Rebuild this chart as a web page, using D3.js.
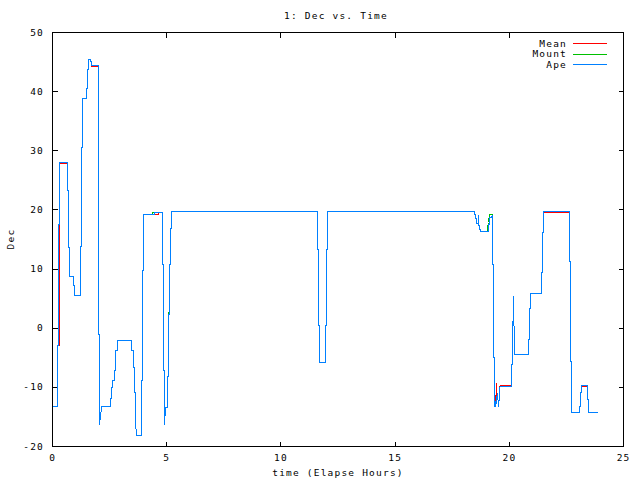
<!DOCTYPE html>
<html>
<head>
<meta charset="utf-8">
<script src="https://cdn.jsdelivr.net/npm/d3@7/dist/d3.min.js"></script>
<style>
  html, body { margin: 0; padding: 0; background: #fff; }
  svg text { font-family: "DejaVu Sans Mono", "Liberation Mono", monospace; font-size: 9.5px; letter-spacing: 1.2px; fill: #000; }
</style>
</head>
<body>
<svg id="chart" width="640" height="480"></svg>
<script>
// ---- data ----
const title = "1: Dec vs. Time";
const xLabel = "time (Elapse Hours)";
const yLabel = "Dec";
const xTicks = [0, 5, 10, 15, 20, 25];
const yTicks = [-20, -10, 0, 10, 20, 30, 40, 50];
const seriesNames = ["Mean", "Mount", "Ape"];

// [hours, dec]
const ape = [
  [0.00,-13.3],[0.23,-13.3],[0.23,-3.0],[0.28,-3.0],[0.28,17.6],[0.32,17.6],[0.32,28.1],[0.67,28.1],
  [0.67,23.3],[0.70,23.3],[0.70,13.7],[0.76,13.7],[0.76,8.8],[0.93,8.8],[0.93,7.2],[0.98,7.2],
  [0.98,5.6],[1.24,5.6],[1.24,13.8],[1.28,13.8],[1.28,30.5],[1.33,30.5],[1.33,38.8],[1.50,38.8],
  [1.50,40.5],[1.53,40.5],[1.53,43.8],[1.58,43.8],[1.58,45.4],[1.66,45.4],[1.66,45.1],[1.71,45.1],
  [1.71,44.5],[2.00,44.5],[2.00,29.2],[2.03,29.2],[2.03,-1.0],[2.07,-1.0],[2.07,-16.3],[2.11,-14.8],
  [2.12,-15.3],[2.14,-13.3],[2.55,-13.3],[2.55,-11.8],[2.60,-11.8],[2.60,-10.1],[2.64,-10.1],[2.64,-8.9],
  [2.71,-8.9],[2.71,-7.1],[2.77,-7.1],[2.77,-3.8],[2.83,-3.8],[2.83,-2.0],[3.47,-2.0],[3.47,-3.7],
  [3.53,-3.7],[3.53,-6.7],[3.60,-6.7],[3.60,-10.8],[3.65,-10.8],[3.65,-15.7],[3.66,-18.1],[3.91,-18.1],
  [3.91,-8.9],[3.95,-8.9],[3.95,9.7],[3.99,9.7],[3.99,19.3],[4.45,19.3],[4.45,19.5],[4.83,19.5],
  [4.83,10.8],[4.87,10.8],[4.87,-7.2],[4.91,-7.2],[4.91,-16.2],[4.96,-13.4],[5.02,-13.4],[5.02,-8.1],
  [5.06,-8.1],[5.06,2.4],[5.11,2.4],[5.11,10.8],[5.16,10.8],[5.16,16.8],[5.22,16.8],[5.22,19.7],
  [11.61,19.7],[11.61,13.3],[11.65,13.3],[11.65,0.4],[11.70,0.4],[11.70,-5.8],[11.96,-5.8],[11.96,0.4],
  [11.99,0.4],[11.99,13.3],[12.04,13.3],[12.04,19.8],[18.47,19.8],[18.47,19.3],[18.51,19.3],[18.51,18.5],
  [18.56,18.5],[18.56,17.7],[18.63,17.7],[18.64,19.3],[18.66,17.7],[18.69,17.1],[18.73,16.3],[19.09,16.3],
  [19.09,17.6],[19.14,17.6],[19.14,18.8],[19.22,18.8],[19.27,19.0],[19.27,10.8],[19.31,10.8],[19.31,-5.0],
  [19.36,-5.0],[19.36,-13.2],[19.40,-13.2],[19.42,-11.5],[19.46,-12.8],[19.48,-11.0],[19.52,-13.2],[19.55,-11.5],
  [19.58,-10.1],[19.60,-9.8],[20.10,-9.8],[20.10,-6.1],[20.14,-6.1],[20.14,1.2],[20.19,1.2],[20.19,5.3],
  [20.23,-4.4],[20.84,-4.4],[20.84,-1.9],[20.89,-1.9],[20.89,3.3],[20.93,3.3],[20.93,5.9],[21.41,5.9],
  [21.41,9.4],[21.46,9.4],[21.46,16.2],[21.50,16.2],[21.50,19.8],[22.64,19.8],[22.64,11.3],[22.68,11.3],
  [22.68,-5.7],[22.73,-5.7],[22.73,-14.3],[23.08,-14.3],[23.08,-13.3],[23.12,-13.3],[23.12,-10.9],[23.16,-10.9],
  [23.16,-9.7],[23.43,-9.7],[23.43,-12.0],[23.47,-12.0],[23.47,-14.2],[23.84,-14.2]
];

const mount = [
  [0.00,-13.3],[0.23,-13.3],[0.23,-3.0],[0.28,-3.0],[0.28,17.6],[0.32,17.6],[0.32,28.1],[0.67,28.1],
  [0.67,23.3],[0.70,23.3],[0.70,13.7],[0.76,13.7],[0.76,8.8],[0.93,8.8],[0.93,7.2],[0.98,7.2],
  [0.98,5.6],[1.24,5.6],[1.24,13.8],[1.28,13.8],[1.28,30.5],[1.33,30.5],[1.33,38.8],[1.50,38.8],
  [1.50,40.5],[1.53,40.5],[1.53,43.8],[1.58,43.8],[1.58,45.4],[1.66,45.4],[1.66,45.1],[1.71,45.1],
  [1.71,44.5],[2.00,44.5],[2.00,29.2],[2.03,29.2],[2.03,-1.0],[2.07,-1.0],[2.07,-16.3],[2.11,-14.8],
  [2.12,-15.3],[2.14,-13.3],[2.55,-13.3],[2.55,-11.8],[2.60,-11.8],[2.60,-10.1],[2.64,-10.1],[2.64,-8.9],
  [2.71,-8.9],[2.71,-7.1],[2.77,-7.1],[2.77,-3.8],[2.83,-3.8],[2.83,-2.0],[3.47,-2.0],[3.47,-3.7],
  [3.53,-3.7],[3.53,-6.7],[3.60,-6.7],[3.60,-10.8],[3.65,-10.8],[3.65,-15.7],[3.66,-18.1],[3.91,-18.1],
  [3.91,-8.9],[3.95,-8.9],[3.95,9.7],[3.99,9.7],[3.99,19.3],[4.38,19.3],[4.38,19.6],[4.83,19.6],
  [4.83,10.8],[4.87,10.8],[4.87,-7.2],[4.91,-7.2],[4.91,-16.2],[4.96,-13.4],[5.02,-13.4],[5.02,-8.1],
  [5.06,-8.1],[5.06,2.6],[5.11,2.6],[5.11,10.8],[5.16,10.8],[5.16,16.8],[5.22,16.8],[5.22,19.7],
  [11.61,19.7],[11.61,13.3],[11.65,13.3],[11.65,0.4],[11.70,0.4],[11.70,-5.8],[11.96,-5.8],[11.96,0.4],
  [11.99,0.4],[11.99,13.3],[12.04,13.3],[12.04,19.8],[18.47,19.8],[18.47,19.3],[18.51,19.3],[18.51,18.5],
  [18.56,18.5],[18.56,17.7],[18.63,17.7],[18.64,19.3],[18.66,17.7],[18.69,17.1],[18.73,16.3],[19.06,16.3],
  [19.06,17.0],[19.10,17.9],[19.12,19.2],[19.27,19.2],[19.27,10.8],[19.31,10.8],[19.31,-5.0],
  [19.36,-5.0],[19.36,-13.2],[19.40,-13.2],[19.42,-11.5],[19.46,-12.8],[19.48,-11.0],[19.52,-13.2],[19.55,-11.5],
  [19.58,-10.1],[19.60,-9.8],[20.10,-9.8],[20.10,-6.1],[20.14,-6.1],[20.14,1.2],[20.19,1.2],[20.19,5.3],
  [20.23,-4.4],[20.84,-4.4],[20.84,-1.9],[20.89,-1.9],[20.89,3.3],[20.93,3.3],[20.93,5.9],[21.41,5.9],
  [21.41,9.4],[21.46,9.4],[21.46,16.2],[21.50,16.2],[21.50,19.8],[22.64,19.8],[22.64,11.3],[22.68,11.3],
  [22.68,-5.7],[22.73,-5.7],[22.73,-14.3],[23.08,-14.3],[23.08,-13.3],[23.12,-13.3],[23.12,-10.9],[23.16,-10.9],
  [23.16,-9.7],[23.43,-9.7],[23.43,-12.0],[23.47,-12.0],[23.47,-14.2],[23.84,-14.2]
];

const mean = [
  [0.00,-13.3],[0.23,-13.3],[0.23,-3.0],[0.29,-3.0],[0.29,17.6],[0.32,17.6],[0.32,27.9],[0.67,27.9],
  [0.67,23.3],[0.70,23.3],[0.70,13.7],[0.76,13.7],[0.76,8.8],[0.93,8.8],[0.93,7.2],[0.98,7.2],
  [0.98,5.6],[1.24,5.6],[1.24,13.8],[1.28,13.8],[1.28,30.5],[1.33,30.5],[1.33,38.8],[1.50,38.8],
  [1.50,40.5],[1.53,40.5],[1.53,43.8],[1.58,43.8],[1.58,45.4],[1.66,45.4],[1.66,45.1],[1.71,45.1],
  [1.71,44.3],[2.00,44.3],[2.00,29.2],[2.03,29.2],[2.03,-1.0],[2.07,-1.0],[2.07,-16.3],[2.11,-14.8],
  [2.12,-15.3],[2.14,-13.3],[2.55,-13.3],[2.55,-11.8],[2.60,-11.8],[2.60,-10.1],[2.64,-10.1],[2.64,-8.9],
  [2.71,-8.9],[2.71,-7.1],[2.77,-7.1],[2.77,-3.8],[2.83,-3.8],[2.83,-2.0],[3.47,-2.0],[3.47,-3.7],
  [3.53,-3.7],[3.53,-6.7],[3.60,-6.7],[3.60,-10.8],[3.65,-10.8],[3.65,-15.7],[3.66,-18.1],[3.91,-18.1],
  [3.91,-8.9],[3.95,-8.9],[3.95,9.7],[3.99,9.7],[3.99,19.3],[4.45,19.3],[4.45,19.15],[4.65,19.15],[4.65,19.5],[4.83,19.5],
  [4.83,10.8],[4.87,10.8],[4.87,-7.2],[4.91,-7.2],[4.91,-16.2],[4.96,-13.4],[5.02,-13.4],[5.02,-8.1],
  [5.06,-8.1],[5.06,2.4],[5.11,2.4],[5.11,10.8],[5.16,10.8],[5.16,16.8],[5.22,16.8],[5.22,19.7],
  [11.61,19.7],[11.61,13.3],[11.65,13.3],[11.65,0.4],[11.70,0.4],[11.70,-5.8],[11.96,-5.8],[11.96,0.4],
  [11.99,0.4],[11.99,13.3],[12.04,13.3],[12.04,19.8],[18.47,19.8],[18.47,19.3],[18.51,19.3],[18.51,18.5],
  [18.56,18.5],[18.56,17.7],[18.63,17.7],[18.64,19.3],[18.66,17.7],[18.69,17.1],[18.73,16.3],[19.09,16.3],
  [19.09,17.6],[19.14,17.6],[19.14,18.8],[19.22,18.8],[19.27,19.0],[19.27,10.8],[19.31,10.8],[19.31,-5.0],
  [19.36,-5.0],[19.36,-13.2],[19.40,-13.2],[19.43,-9.4],[19.46,-12.8],[19.48,-11.0],[19.52,-13.2],[19.55,-11.5],
  [19.58,-10.1],[19.60,-9.65],[20.10,-9.65],[20.10,-6.1],[20.14,-6.1],[20.14,1.2],[20.19,1.2],[20.19,5.3],
  [20.23,-4.4],[20.84,-4.4],[20.84,-1.9],[20.89,-1.9],[20.89,3.3],[20.93,3.3],[20.93,5.9],[21.41,5.9],
  [21.41,9.4],[21.46,9.4],[21.46,16.2],[21.50,16.2],[21.50,19.6],[22.64,19.6],[22.64,11.3],[22.68,11.3],
  [22.68,-5.7],[22.73,-5.7],[22.73,-14.3],[23.08,-14.3],[23.08,-13.3],[23.12,-13.3],[23.12,-10.9],[23.16,-10.9],
  [23.16,-9.85],[23.43,-9.85],[23.43,-12.0],[23.47,-12.0],[23.47,-14.2],[23.84,-14.2]
];

const colors = ["#ff0000", "#00c000", "#0080ff"];

// ---- chart ----
const svg = d3.select("#chart");
const L = 52, R = 623, T = 32, B = 446;
const x = d3.scaleLinear().domain([0, 25]).range([L, R]);
const y = d3.scaleLinear().domain([-20, 50]).range([B, T]);
const px = v => Math.round(x(v)) + 0.5;
const py = v => Math.round(y(v)) + 0.5;

const g = svg.append("g");

// frame
g.append("rect")
  .attr("x", L + 0.5).attr("y", T + 0.5)
  .attr("width", R - L).attr("height", B - T)
  .attr("fill", "none").attr("stroke", "#000").attr("stroke-width", 1)
  .attr("shape-rendering", "crispEdges");

const tickLen = 5;
// x ticks (bottom and top, inward)
xTicks.forEach(t => {
  g.append("line").attr("x1", px(t)).attr("x2", px(t)).attr("y1", B + 0.5).attr("y2", B + 0.5 - tickLen)
    .attr("stroke", "#000").attr("shape-rendering", "crispEdges");
  g.append("line").attr("x1", px(t)).attr("x2", px(t)).attr("y1", T + 0.5).attr("y2", T + 0.5 + tickLen)
    .attr("stroke", "#000").attr("shape-rendering", "crispEdges");
  g.append("text").attr("x", x(t) + 0.6).attr("y", B + 15).attr("text-anchor", "middle").text(t);
});
// y ticks (left and right)
yTicks.forEach(v => {
  g.append("line").attr("x1", L + 0.5).attr("x2", L + 0.5 + tickLen).attr("y1", py(v)).attr("y2", py(v))
    .attr("stroke", "#000").attr("shape-rendering", "crispEdges");
  g.append("line").attr("x1", R + 0.5).attr("x2", R + 0.5 - tickLen).attr("y1", py(v)).attr("y2", py(v))
    .attr("stroke", "#000").attr("shape-rendering", "crispEdges");
  g.append("text").attr("x", L - 8).attr("y", y(v) + 3.5).attr("text-anchor", "end").text(v);
});

// title and labels
svg.append("text").attr("x", 336).attr("y", 19).attr("text-anchor", "middle").text(title);
svg.append("text").attr("x", 338).attr("y", 476).attr("text-anchor", "middle").text(xLabel);
svg.append("text").attr("transform", "translate(14," + ((T + B) / 2) + ") rotate(-90)")
  .attr("text-anchor", "middle").text(yLabel);

// lines
const line = d3.line().x(d => px(d[0])).y(d => py(d[1]));
[mean, mount, ape].forEach((s, i) => {
  g.append("path").datum(s).attr("d", line)
    .attr("fill", "none").attr("stroke", colors[i]).attr("stroke-width", 1)
    .attr("shape-rendering", "crispEdges");
});

// legend
seriesNames.forEach((n, i) => {
  const ly = 43 + i * 10.5;
  svg.append("text").attr("x", 567).attr("y", ly + 3.5).attr("text-anchor", "end").text(n);
  svg.append("line").attr("x1", 573).attr("x2", 607).attr("y1", Math.round(ly) + 0.5).attr("y2", Math.round(ly) + 0.5)
    .attr("stroke", colors[i]).attr("stroke-width", 1).attr("shape-rendering", "crispEdges");
});
</script>
</body>
</html>
